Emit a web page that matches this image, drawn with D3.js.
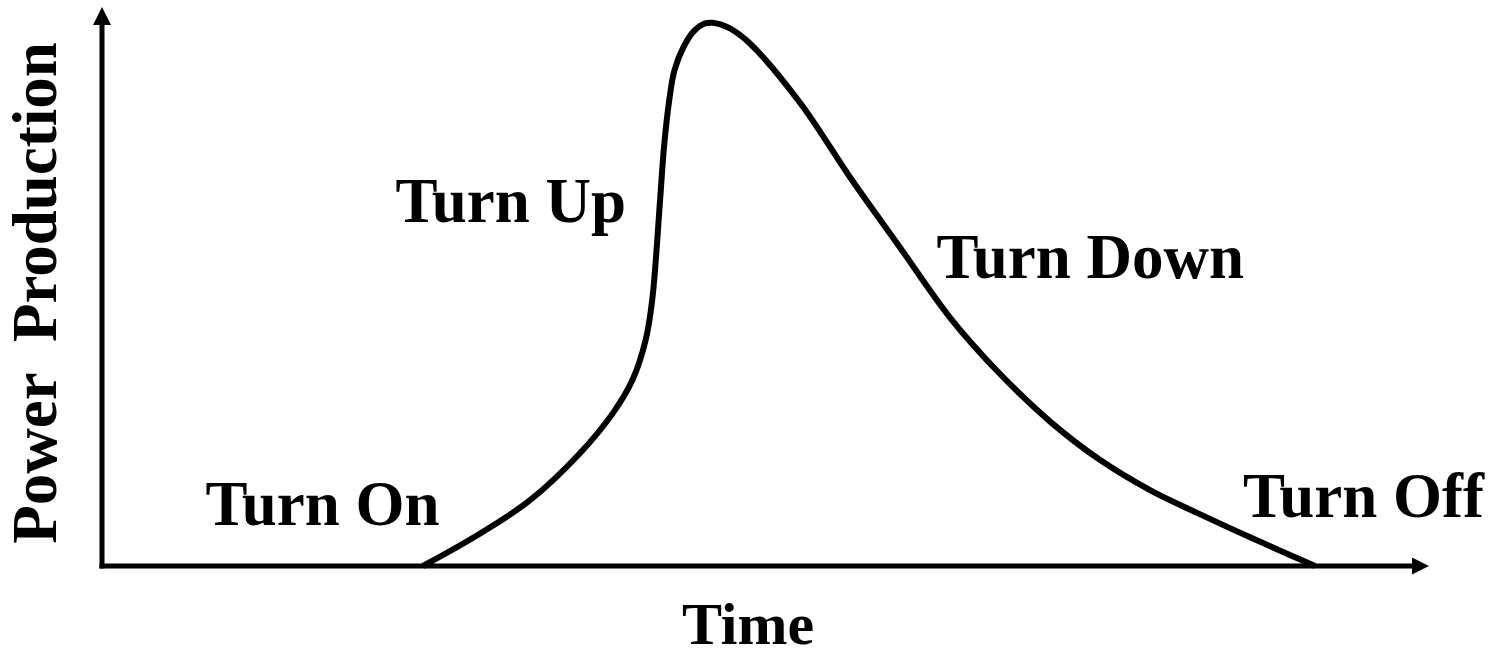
<!DOCTYPE html>
<meta charset="utf-8">
<style>
body {
    margin: 0;
    background: #fff;
}

.axis-line {
    stroke: #000;
    stroke-width: 5px;
}

.curve {
    fill: none;
    stroke: #000;
    stroke-width: 6px;
    stroke-linejoin: round;
}

.label {
    font-family: "Liberation Serif", "Times New Roman", serif;
    font-weight: bold;
    font-size: 63px;
    fill: #000;
    white-space: pre;
}
</style>
<body>
    <script src="https://cdn.jsdelivr.net/npm/d3@7"></script>
    <script>
        const width = 1505;
        const height = 657;

        // curve (time, power), both in 0..100 units
        const time = [24.5, 28.9, 32.7, 36.5, 39.0, 40.5, 41.5, 42.0, 42.6, 42.9, 43.3, 43.7, 44.4, 45.2,
            45.95, 46.6, 47.9, 49.5, 53.3, 57.1, 60.9, 64.7, 68.5, 72.4, 76.2, 80.0, 83.8, 87.6, 92.6];
        const power = [0, 6.0, 12.1, 20.7, 28.0, 34.1, 41.4, 48.7, 67.0, 76.7, 85.3, 90.8, 95.1, 98.0,
            99.3, 99.5, 98.5, 95.6, 84.8, 71.2, 58.4, 45.6, 35.3, 26.4, 19.4, 13.9, 9.5, 5.3, 0];

        const phaseNames = ["Turn On", "Turn Up", "Turn Down", "Turn Off"];
        const phaseTime = [7.9, 22.4, 63.7, 87.1];
        const phasePower = [7.5, 63.0, 52.7, 9.0];

        const xTitle = "Time";
        const yTitle = "Power  Production";

        const x = d3.scaleLinear().domain([0, 100]).range([102, 1412]);
        const y = d3.scaleLinear().domain([0, 100]).range([566, 20]);

        const svg = d3.select("body").append("svg")
            .attr("width", width)
            .attr("height", height);

        // axes with arrow heads
        svg.append("line")
            .attr("class", "axis-line")
            .attr("x1", x(0) - 2.5).attr("y1", y(0))
            .attr("x2", x(100)).attr("y2", y(0));

        svg.append("line")
            .attr("class", "axis-line")
            .attr("x1", x(0)).attr("y1", y(0) + 2.5)
            .attr("x2", x(0)).attr("y2", 25);

        svg.append("path")
            .attr("d", d3.line()([[x(100), y(0) - 8.5], [x(100) + 17, y(0)], [x(100), y(0) + 8.5]]) + "Z")
            .attr("fill", "#000");

        svg.append("path")
            .attr("d", d3.line()([[x(0) - 9, 25], [x(0), 7], [x(0) + 9, 25]]) + "Z")
            .attr("fill", "#000");

        const points = time.map(function(t, i) { return [t, power[i]]; });

        const line = d3.line()
            .x(function(d) { return x(d[0]); })
            .y(function(d) { return y(d[1]); })
            .curve(d3.curveCatmullRom.alpha(0.5));

        svg.append("path")
            .datum(points)
            .attr("class", "curve")
            .attr("d", line);

        svg.selectAll(".phase")
            .data(phaseNames)
            .enter()
            .append("text")
            .attr("class", "label phase")
            .attr("x", function(d, i) { return x(phaseTime[i]); })
            .attr("y", function(d, i) { return y(phasePower[i]); })
            .text(function(d) { return d; });

        svg.append("text")
            .attr("class", "label")
            .attr("x", 748)
            .attr("y", 644)
            .attr("text-anchor", "middle")
            .style("font-size", "60px")
            .text(xTitle);

        svg.append("text")
            .attr("class", "label")
            .attr("transform", "translate(56, 293) rotate(-90)")
            .attr("text-anchor", "middle")
            .text(yTitle);
    </script>
</body>
